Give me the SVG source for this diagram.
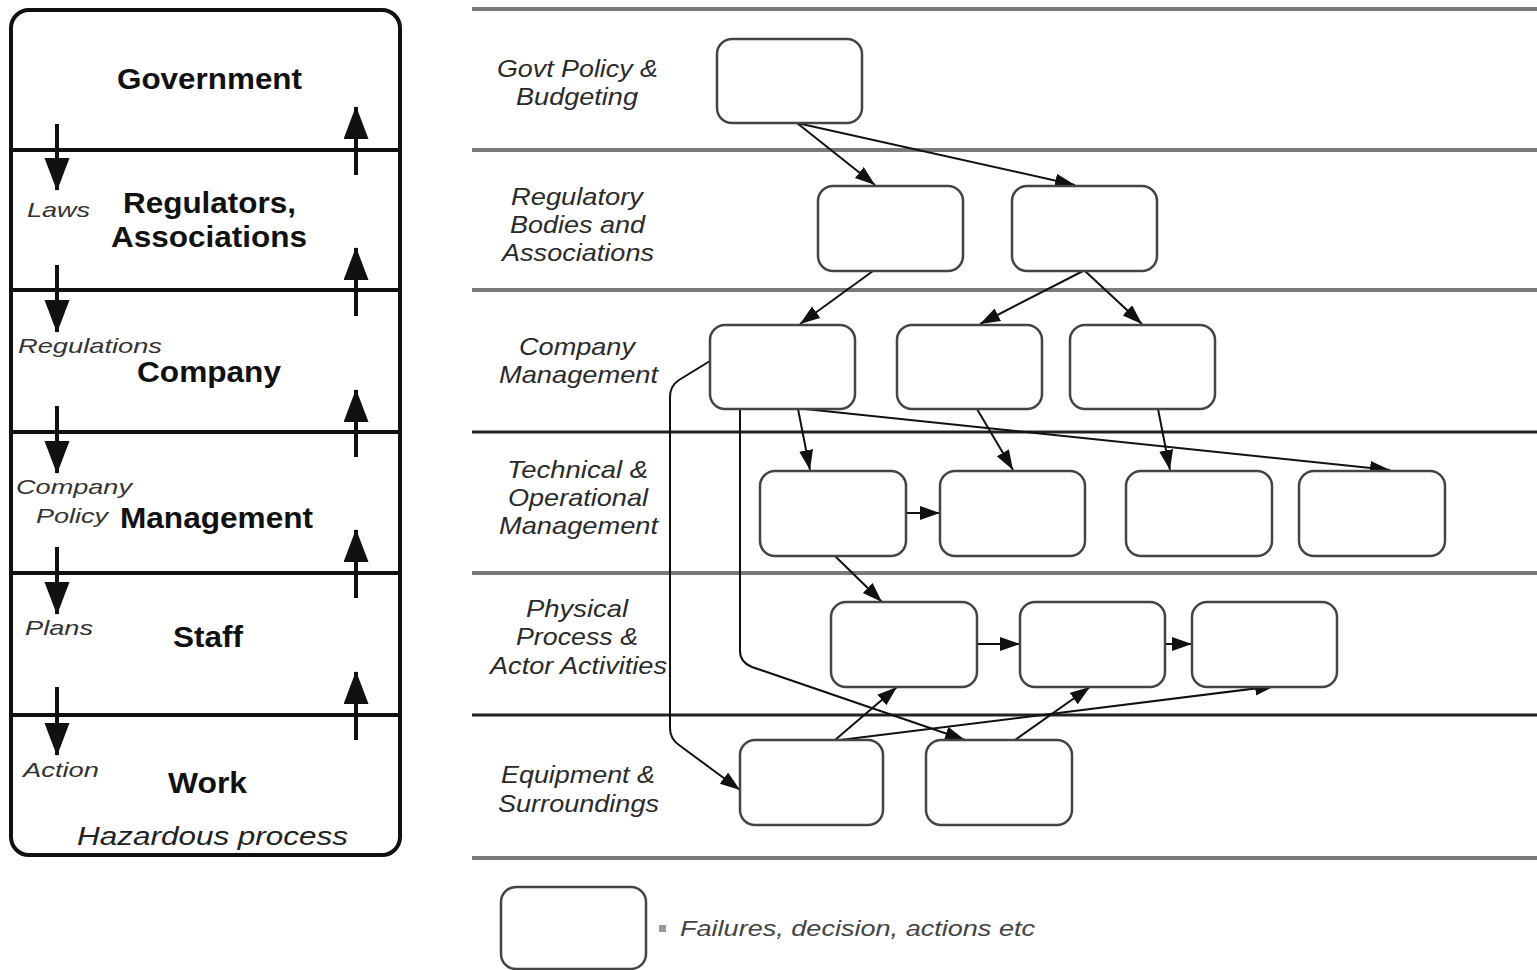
<svg xmlns="http://www.w3.org/2000/svg" width="1537" height="970" viewBox="0 0 1537 970">
<style>
.bold{font-family:"Liberation Sans",Arial,sans-serif;font-weight:bold;font-size:29px;fill:#111}
.ital{font-family:"Liberation Sans",Arial,sans-serif;font-style:italic;font-size:21px;fill:#333}
.lane{font-family:"Liberation Sans",Arial,sans-serif;font-style:italic;font-size:24px;fill:#2a2a2a}
.sep{stroke:#111;stroke-width:4}
.lanesep{stroke:#7a7a7a;stroke-width:4}
.lanesepd{stroke:#222;stroke-width:3}
.big{stroke:#111;stroke-width:4;fill:none}
.box{fill:#fff;stroke:#444;stroke-width:2.5}
.conn{stroke:#111;stroke-width:2;fill:none}
</style>
<defs>
<marker id="bigArrow" markerUnits="userSpaceOnUse" markerWidth="34" markerHeight="26" refX="32" refY="12.5" orient="auto">
<path d="M0,0 L33,12.5 L0,25 z" fill="#111"/>
</marker>
<marker id="arr" markerUnits="userSpaceOnUse" markerWidth="22" markerHeight="16" refX="20" refY="7" orient="auto">
<path d="M0,0 L20,7 L0,14 z" fill="#111"/>
</marker>
</defs>
<rect width="1537" height="970" fill="#fff"/>

<g id="left-panel">
<rect x="11" y="10" width="389" height="845" rx="18" fill="#fff" stroke="#111" stroke-width="4"/>
<line class="sep" x1="11" y1="150" x2="400" y2="150"/>
<line class="sep" x1="11" y1="290" x2="400" y2="290"/>
<line class="sep" x1="11" y1="432" x2="400" y2="432"/>
<line class="sep" x1="11" y1="573" x2="400" y2="573"/>
<line class="sep" x1="11" y1="715" x2="400" y2="715"/>
</g>
<g id="left-arrows">
<line class="big" x1="57" y1="124" x2="57" y2="190" marker-end="url(#bigArrow)"/>
<line class="big" x1="356" y1="175" x2="356" y2="107" marker-end="url(#bigArrow)"/>
<line class="big" x1="57" y1="265" x2="57" y2="332" marker-end="url(#bigArrow)"/>
<line class="big" x1="356" y1="316" x2="356" y2="248" marker-end="url(#bigArrow)"/>
<line class="big" x1="57" y1="406" x2="57" y2="473" marker-end="url(#bigArrow)"/>
<line class="big" x1="356" y1="457" x2="356" y2="390" marker-end="url(#bigArrow)"/>
<line class="big" x1="57" y1="547" x2="57" y2="614" marker-end="url(#bigArrow)"/>
<line class="big" x1="356" y1="598" x2="356" y2="530" marker-end="url(#bigArrow)"/>
<line class="big" x1="57" y1="687" x2="57" y2="755" marker-end="url(#bigArrow)"/>
<line class="big" x1="356" y1="740" x2="356" y2="672" marker-end="url(#bigArrow)"/>
</g>
<g id="left-labels">
<text class="bold" x="117" y="89" textLength="185" lengthAdjust="spacingAndGlyphs">Government</text>
<text class="bold" x="123" y="213" textLength="173" lengthAdjust="spacingAndGlyphs">Regulators,</text>
<text class="bold" x="111" y="247" textLength="196" lengthAdjust="spacingAndGlyphs">Associations</text>
<text class="bold" x="137" y="382" textLength="144" lengthAdjust="spacingAndGlyphs">Company</text>
<text class="bold" x="120" y="528" textLength="193" lengthAdjust="spacingAndGlyphs">Management</text>
<text class="bold" x="173" y="647" textLength="70" lengthAdjust="spacingAndGlyphs">Staff</text>
<text class="bold" x="168" y="793" textLength="79" lengthAdjust="spacingAndGlyphs">Work</text>
<text class="ital" x="27" y="217" textLength="63" lengthAdjust="spacingAndGlyphs">Laws</text>
<text class="ital" x="18" y="353" textLength="144" lengthAdjust="spacingAndGlyphs">Regulations</text>
<text class="ital" x="16" y="494" textLength="116" lengthAdjust="spacingAndGlyphs">Company</text>
<text class="ital" x="36" y="523" textLength="72" lengthAdjust="spacingAndGlyphs">Policy</text>
<text class="ital" x="25" y="635" textLength="68" lengthAdjust="spacingAndGlyphs">Plans</text>
<text class="ital" x="23" y="777" textLength="76" lengthAdjust="spacingAndGlyphs">Action</text>
<text class="ital" x="77" y="845" style="font-size:26px;fill:#222" textLength="271" lengthAdjust="spacingAndGlyphs">Hazardous process</text>
</g>

<g id="lanes">
<line class="lanesep" x1="472" y1="9" x2="1537" y2="9"/>
<line class="lanesep" x1="472" y1="150" x2="1537" y2="150"/>
<line class="lanesep" x1="472" y1="290" x2="1537" y2="290"/>
<line class="lanesepd" x1="472" y1="432" x2="1537" y2="432"/>
<line class="lanesep" x1="472" y1="573" x2="1537" y2="573"/>
<line class="lanesepd" x1="472" y1="715" x2="1537" y2="715"/>
<line class="lanesep" x1="472" y1="858" x2="1537" y2="858"/>
</g>
<g id="lane-labels">
<text class="lane" x="497" y="77" textLength="161" lengthAdjust="spacingAndGlyphs">Govt Policy &amp;</text>
<text class="lane" x="516" y="105" textLength="122" lengthAdjust="spacingAndGlyphs">Budgeting</text>
<text class="lane" x="511" y="205" textLength="132" lengthAdjust="spacingAndGlyphs">Regulatory</text>
<text class="lane" x="510" y="233" textLength="135" lengthAdjust="spacingAndGlyphs">Bodies and</text>
<text class="lane" x="502" y="261" textLength="152" lengthAdjust="spacingAndGlyphs">Associations</text>
<text class="lane" x="519" y="355" textLength="116" lengthAdjust="spacingAndGlyphs">Company</text>
<text class="lane" x="499" y="383" textLength="159" lengthAdjust="spacingAndGlyphs">Management</text>
<text class="lane" x="507" y="478" textLength="141" lengthAdjust="spacingAndGlyphs">Technical &amp;</text>
<text class="lane" x="508" y="506" textLength="140" lengthAdjust="spacingAndGlyphs">Operational</text>
<text class="lane" x="499" y="534" textLength="159" lengthAdjust="spacingAndGlyphs">Management</text>
<text class="lane" x="526" y="617" textLength="102" lengthAdjust="spacingAndGlyphs">Physical</text>
<text class="lane" x="516" y="645" textLength="122" lengthAdjust="spacingAndGlyphs">Process &amp;</text>
<text class="lane" x="490" y="674" textLength="177" lengthAdjust="spacingAndGlyphs">Actor Activities</text>
<text class="lane" x="501" y="783" textLength="154" lengthAdjust="spacingAndGlyphs">Equipment &amp;</text>
<text class="lane" x="498" y="812" textLength="161" lengthAdjust="spacingAndGlyphs">Surroundings</text>
</g>

<g id="connectors">
<path class="conn" d="M797,123 L875,185" marker-end="url(#arr)"/>
<path class="conn" d="M797,123 L1075,185" marker-end="url(#arr)"/>
<path class="conn" d="M873,271 L800,324" marker-end="url(#arr)"/>
<path class="conn" d="M1083,271 L980,324" marker-end="url(#arr)"/>
<path class="conn" d="M1085,271 L1142,324" marker-end="url(#arr)"/>
<path class="conn" d="M798,409 L810,470" marker-end="url(#arr)"/>
<path class="conn" d="M805,409 L1390,470" marker-end="url(#arr)"/>
<path class="conn" d="M977,409 L1013,470" marker-end="url(#arr)"/>
<path class="conn" d="M1158,409 L1170,470" marker-end="url(#arr)"/>
<path class="conn" d="M906,513 L940,513" marker-end="url(#arr)"/>
<path class="conn" d="M835,556 L882,602" marker-end="url(#arr)"/>
<path class="conn" d="M977,644 L1020,644" marker-end="url(#arr)"/>
<path class="conn" d="M1165,644 L1192,644" marker-end="url(#arr)"/>
<path class="conn" d="M710,361 L679,380 Q670,386 670,397 L670,728 Q670,739 679,745 L740,790" marker-end="url(#arr)"/>
<path class="conn" d="M740,409 L740,651 Q740,662 752,667 L965,740" marker-end="url(#arr)"/>
<path class="conn" d="M835,740 L897,687" marker-end="url(#arr)"/>
<path class="conn" d="M840,740 L1275,686" marker-end="url(#arr)"/>
<path class="conn" d="M1015,740 L1090,687" marker-end="url(#arr)"/>
</g>

<g id="n-govt"><rect class="box" x="717" y="39" width="145" height="84" rx="15"/></g>
<g id="n-reg1"><rect class="box" x="818" y="186" width="145" height="85" rx="15"/></g>
<g id="n-reg2"><rect class="box" x="1012" y="186" width="145" height="85" rx="15"/></g>
<g id="n-comp1"><rect class="box" x="710" y="325" width="145" height="84" rx="15"/></g>
<g id="n-comp2"><rect class="box" x="897" y="325" width="145" height="84" rx="15"/></g>
<g id="n-comp3"><rect class="box" x="1070" y="325" width="145" height="84" rx="15"/></g>
<g id="n-tech1"><rect class="box" x="760" y="471" width="146" height="85" rx="15"/></g>
<g id="n-tech2"><rect class="box" x="940" y="471" width="145" height="85" rx="15"/></g>
<g id="n-tech3"><rect class="box" x="1126" y="471" width="146" height="85" rx="15"/></g>
<g id="n-tech4"><rect class="box" x="1299" y="471" width="146" height="85" rx="15"/></g>
<g id="n-phys1"><rect class="box" x="831" y="602" width="146" height="85" rx="15"/></g>
<g id="n-phys2"><rect class="box" x="1020" y="602" width="145" height="85" rx="15"/></g>
<g id="n-phys3"><rect class="box" x="1192" y="602" width="145" height="85" rx="15"/></g>
<g id="n-equip1"><rect class="box" x="740" y="740" width="143" height="85" rx="15"/></g>
<g id="n-equip2"><rect class="box" x="926" y="740" width="146" height="85" rx="15"/></g>

<g id="legend">
<rect class="box" x="501" y="887" width="145" height="82" rx="15"/>
<rect x="659" y="925" width="7" height="7" fill="#999"/>
<text class="lane" x="680" y="936" style="font-size:22px;fill:#444" textLength="355" lengthAdjust="spacingAndGlyphs">Failures, decision, actions etc</text>
</g>
</svg>
